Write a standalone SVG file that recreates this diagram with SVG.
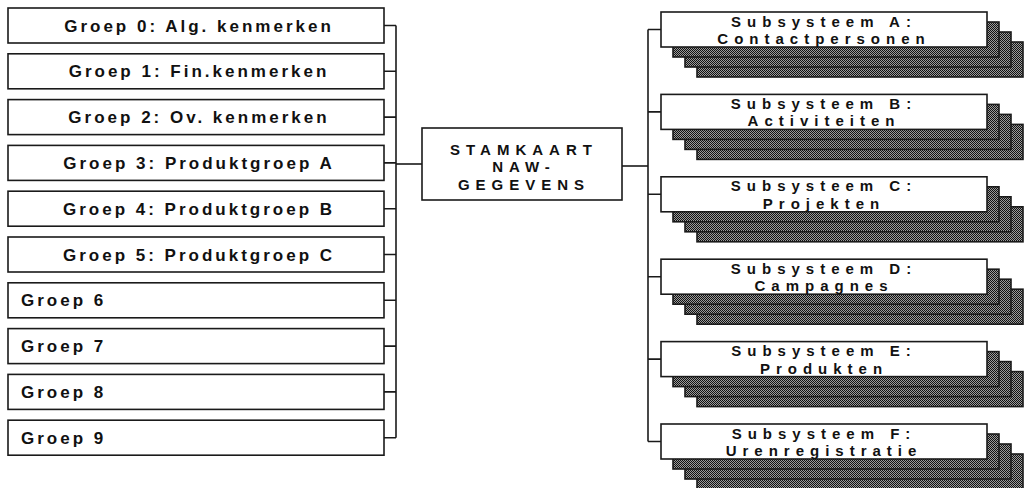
<svg xmlns="http://www.w3.org/2000/svg" width="1029" height="488" viewBox="0 0 1029 488">
<style>
.box{fill:#fff;stroke:#1a1a1a;stroke-width:1.6}
.sh{fill:url(#hatch);stroke:#1a1a1a;stroke-width:1.6}
.ln{fill:none;stroke:#1a1a1a;stroke-width:1.6}
text{font-family:"Liberation Sans",Arial,sans-serif;font-weight:bold;font-size:17px;fill:#111}
.l{letter-spacing:3px}
.c{letter-spacing:3px;text-anchor:middle}
.r{font-size:15px;letter-spacing:6px;text-anchor:middle}
.m{font-size:15px;letter-spacing:6px;text-anchor:middle}
</style>
<defs>
<pattern id="hatch" width="2" height="2" patternUnits="userSpaceOnUse">
<rect width="2" height="2" fill="#9a9a9a"/>
<rect width="1" height="1" fill="#111"/>
<rect x="1" y="1" width="1" height="1" fill="#111"/>
</pattern>
</defs>
<g id="connectors">
<path class="ln" d="M396 25.5V437.7"/>
<path class="ln" d="M384 25.5H396M384 71.3H396M384 117.1H396M384 162.9H396M384 208.7H396M384 254.5H396M384 300.3H396M384 346.1H396M384 391.9H396M384 437.7H396"/>
<path class="ln" d="M396 164H422"/>
<path class="ln" d="M622 166H648"/>
<path class="ln" d="M648 29.5V441.5"/>
<path class="ln" d="M648 29.5H661M648 111.9H661M648 194.3H661M648 276.7H661M648 359.1H661M648 441.5H661"/>
</g>
<g id="g0"><rect class="box" x="8" y="8" width="376" height="35"/><text class="c" x="199" y="31.5">Groep 0: Alg. kenmerken</text></g>
<g id="g1"><rect class="box" x="8" y="53.8" width="376" height="35"/><text class="c" x="199" y="77.3">Groep 1: Fin.kenmerken</text></g>
<g id="g2"><rect class="box" x="8" y="99.6" width="376" height="35"/><text class="c" x="199" y="123.1">Groep 2: Ov. kenmerken</text></g>
<g id="g3"><rect class="box" x="8" y="145.4" width="376" height="35"/><text class="c" x="199" y="168.9">Groep 3: Produktgroep A</text></g>
<g id="g4"><rect class="box" x="8" y="191.2" width="376" height="35"/><text class="c" x="199" y="214.7">Groep 4: Produktgroep B</text></g>
<g id="g5"><rect class="box" x="8" y="237" width="376" height="35"/><text class="c" x="199" y="260.5">Groep 5: Produktgroep C</text></g>
<g id="g6"><rect class="box" x="8" y="282.8" width="376" height="35"/><text class="l" x="21" y="306.3">Groep 6</text></g>
<g id="g7"><rect class="box" x="8" y="328.6" width="376" height="35"/><text class="l" x="21" y="352.1">Groep 7</text></g>
<g id="g8"><rect class="box" x="8" y="374.4" width="376" height="35"/><text class="l" x="21" y="397.9">Groep 8</text></g>
<g id="g9"><rect class="box" x="8" y="420.2" width="376" height="35"/><text class="l" x="21" y="443.7">Groep 9</text></g>
<g id="stamkaart"><rect class="box" x="422" y="128" width="200" height="72"/>
<text class="m" x="524" y="154.5">STAMKAART</text>
<text class="m" x="524" y="172">NAW-</text>
<text class="m" x="524" y="189.5">GEGEVENS</text></g>
<g id="subA"><rect class="sh" x="697" y="42" width="326" height="35"/><rect class="sh" x="685" y="32" width="326" height="35"/><rect class="sh" x="673" y="22" width="326" height="35"/><rect class="box" x="661" y="12" width="326" height="35"/>
<text class="r" x="824" y="26.5">Subsysteem A:</text><text class="r" x="824" y="44">Contactpersonen</text></g>
<g id="subB"><rect class="sh" x="697" y="124.4" width="326" height="35"/><rect class="sh" x="685" y="114.4" width="326" height="35"/><rect class="sh" x="673" y="104.4" width="326" height="35"/><rect class="box" x="661" y="94.4" width="326" height="35"/>
<text class="r" x="824" y="108.9">Subsysteem B:</text><text class="r" x="824" y="126.4">Activiteiten</text></g>
<g id="subC"><rect class="sh" x="697" y="206.8" width="326" height="35"/><rect class="sh" x="685" y="196.8" width="326" height="35"/><rect class="sh" x="673" y="186.8" width="326" height="35"/><rect class="box" x="661" y="176.8" width="326" height="35"/>
<text class="r" x="824" y="191.3">Subsysteem C:</text><text class="r" x="824" y="208.8">Projekten</text></g>
<g id="subD"><rect class="sh" x="697" y="289.2" width="326" height="35"/><rect class="sh" x="685" y="279.2" width="326" height="35"/><rect class="sh" x="673" y="269.2" width="326" height="35"/><rect class="box" x="661" y="259.2" width="326" height="35"/>
<text class="r" x="824" y="273.7">Subsysteem D:</text><text class="r" x="824" y="291.2">Campagnes</text></g>
<g id="subE"><rect class="sh" x="697" y="371.6" width="326" height="35"/><rect class="sh" x="685" y="361.6" width="326" height="35"/><rect class="sh" x="673" y="351.6" width="326" height="35"/><rect class="box" x="661" y="341.6" width="326" height="35"/>
<text class="r" x="824" y="356.1">Subsysteem E:</text><text class="r" x="824" y="373.6">Produkten</text></g>
<g id="subF"><rect class="sh" x="697" y="454" width="326" height="35"/><rect class="sh" x="685" y="444" width="326" height="35"/><rect class="sh" x="673" y="434" width="326" height="35"/><rect class="box" x="661" y="424" width="326" height="35"/>
<text class="r" x="824" y="438.5">Subsysteem F:</text><text class="r" x="824" y="456">Urenregistratie</text></g>
</svg>
